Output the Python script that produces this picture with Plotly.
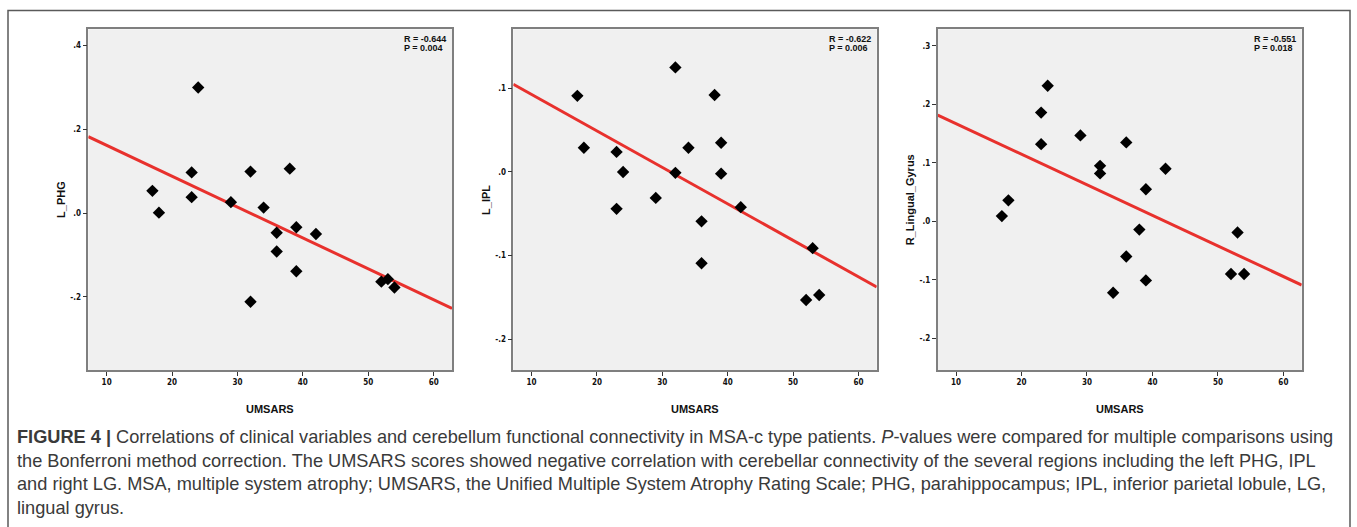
import numpy as np
import plotly.graph_objects as go

W, H = 1357, 527

# ---------------- data ----------------
l_phg_x = [17, 18, 24, 23, 23, 29, 32, 32, 34, 38, 36, 36, 39, 39, 42, 52, 53, 54]
l_phg_y = [0.053, 0.001, 0.300, 0.097, 0.038, 0.026, 0.099, -0.212, 0.013, 0.106,
           -0.047, -0.092, -0.034, -0.139, -0.050, -0.164, -0.158, -0.178]

l_ipl_x = [17, 18, 23, 23, 24, 29, 32, 32, 34, 36, 36, 38, 39, 39, 42, 52, 53, 54]
l_ipl_y = [0.091, 0.029, 0.024, -0.044, 0.000, -0.031, 0.125, -0.001, 0.029, -0.059,
           -0.109, 0.092, 0.035, -0.002, -0.042, -0.153, -0.091, -0.147]

r_lg_x = [17, 18, 23, 23, 24, 29, 32, 32, 34, 36, 36, 38, 39, 39, 42, 52, 53, 54]
r_lg_y = [0.009, 0.036, 0.186, 0.132, 0.232, 0.147, 0.095, 0.082, -0.122, 0.135,
          -0.060, -0.014, 0.055, -0.101, 0.090, -0.090, -0.019, -0.090]

y_titles = ["L_PHG", "L_IPL", "R_Lingual_Gyrus"]
x_title = "UMSARS"
r_values = ["-0.644", "-0.622", "-0.551"]
p_values = ["0.004", "0.006", "0.018"]

x_tickvals = [10, 20, 30, 40, 50, 60]
x_ticktext = ["10", "20", "30", "40", "50", "60"]
y_tickvals = [[-0.2, 0.0, 0.2, 0.4],
              [-0.2, -0.1, 0.0, 0.1],
              [-0.2, -0.1, 0.0, 0.1, 0.2, 0.3]]
y_ticktext = [["-.2", ".0", ".2", ".4"],
              ["-.2", "-.1", ".0", ".1"],
              ["-.2", "-.1", ".0", ".1", ".2", ".3"]]

caption_lines = [
    "<b>FIGURE 4 |</b> Correlations of clinical variables and cerebellum functional connectivity in MSA-c type patients. <i>P</i>-values were compared for multiple comparisons using",
    "the Bonferroni method correction. The UMSARS scores showed negative correlation with cerebellar connectivity of the several regions including the left PHG, IPL",
    "and right LG. MSA, multiple system atrophy; UMSARS, the Unified Multiple System Atrophy Rating Scale; PHG, parahippocampus; IPL, inferior parietal lobule, LG,",
    "lingual gyrus.",
]

# ---------------- layout geometry (pixels) ----------------
panels_px = [(88.3, 452.0), (513.3, 876.7), (937.7, 1301.7)]
top_px, bot_px = 29.3, 370.0
x_range = [7.2, 62.8]
y_ranges = [[-0.375, 0.439], [-0.2366, 0.1705], [-0.2542, 0.3285]]

NARROW = "Liberation Sans Narrow, Arial Narrow, DejaVu Sans Condensed, Liberation Sans, Arial, sans-serif"
SANS = "Liberation Sans, Arial, Helvetica, sans-serif"

fig = go.Figure()
series = [(l_phg_x, l_phg_y), (l_ipl_x, l_ipl_y), (r_lg_x, r_lg_y)]

annotations = []
for i, (xs, ys) in enumerate(series):
    ax = "" if i == 0 else str(i + 1)
    xa, ya = "x" + ax, "y" + ax
    slope, intercept = np.polyfit(np.array(xs, float), np.array(ys, float), 1)
    lx = np.array(x_range)
    fig.add_trace(go.Scatter(x=lx, y=slope * lx + intercept, mode="lines",
                             line=dict(color="#e8312d", width=3),
                             xaxis=xa, yaxis=ya, showlegend=False, hoverinfo="skip"))
    fig.add_trace(go.Scatter(x=xs, y=ys, mode="markers",
                             marker=dict(symbol="diamond", size=9.5, color="black"),
                             xaxis=xa, yaxis=ya, showlegend=False))

    x0, x1 = panels_px[i]
    axis_common = dict(showgrid=False, zeroline=False, showline=True, mirror=True,
                       linecolor="#7f7f7f", linewidth=1.5, ticks="outside",
                       ticklen=4, tickwidth=1, tickcolor="#333333",
                       tickfont=dict(family=NARROW, size=8, color="#111111", weight="bold"))
    fig.update_layout(**{
        "xaxis" + ax: dict(domain=[x0 / W, x1 / W], range=x_range, anchor=ya,
                           tickvals=x_tickvals, ticktext=x_ticktext, **axis_common),
        "yaxis" + ax: dict(domain=[1 - bot_px / H, 1 - top_px / H], range=y_ranges[i], anchor=xa,
                           tickvals=y_tickvals[i], ticktext=y_ticktext[i], **axis_common),
    })

    for j, txt in enumerate(["R = " + r_values[i], "P = " + p_values[i]]):
        annotations.append(dict(text=txt, xref=xa + " domain", yref=ya + " domain",
                                x=1, y=1, xanchor="left", yanchor="middle",
                                xshift=-50, yshift=-10 - 9 * j, showarrow=False,
                                font=dict(family=SANS, size=9, color="#111111", weight="bold")))
    annotations.append(dict(text=y_titles[i], xref="paper", yref="paper",
                            x=(x0 - 28) / W, y=1 - ((top_px + bot_px) / 2) / H,
                            xanchor="center", yanchor="middle", textangle=-90, showarrow=False,
                            font=dict(family=SANS, size=11, color="#111111", weight="bold")))
    annotations.append(dict(text=x_title, xref="paper", yref="paper",
                            x=((x0 + x1) / 2) / W, y=1 - 409 / H,
                            xanchor="center", yanchor="middle", showarrow=False,
                            font=dict(family=SANS, size=11, color="#111111", weight="bold")))

for k, line in enumerate(caption_lines):
    annotations.append(dict(text=line, xref="paper", yref="paper",
                            x=15 / W, y=1 - (437 + 23.7 * k) / H,
                            xanchor="left", yanchor="middle", showarrow=False, align="left",
                            font=dict(family=SANS, size=18.2, color="#3a3a3a")))

fig.update_layout(
    width=W, height=H,
    margin=dict(l=0, r=0, t=0, b=0),
    paper_bgcolor="white",
    plot_bgcolor="#f0f0f0",
    annotations=annotations,
    shapes=[dict(type="rect", xref="paper", yref="paper",
                 x0=8 / W, x1=1350 / W, y0=-0.1, y1=1 - 10.5 / H,
                 line=dict(color="#5a5a5a", width=1.5), layer="below")],
)

fig.write_html("out.html", config={"displayModeBar": False},
               post_script="document.body.style.margin='0';document.body.style.padding='0';")
